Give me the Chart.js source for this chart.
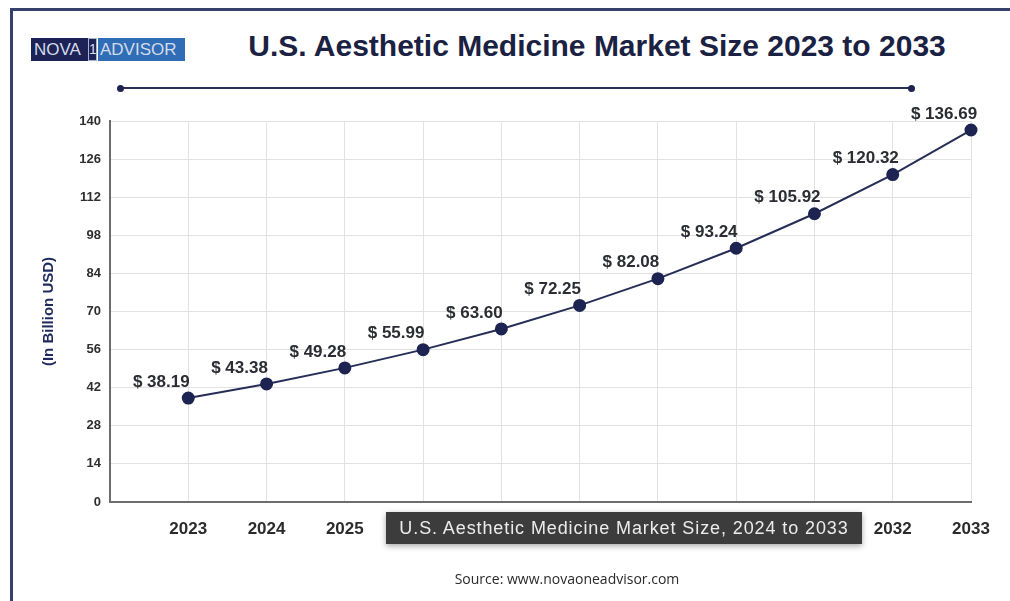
<!DOCTYPE html>
<html lang="en">
<head>
    <meta charset="UTF-8">
    <meta name="viewport" content="width=device-width, initial-scale=1.0">
    <title>U.S. Aesthetic Medicine Market Size</title>
    <style>
        body { margin: 0; background: #fff; }
        .page { position: relative; width: 1010px; height: 601px; overflow: hidden; background: #fff; }
        .frame-top { position: absolute; left: 10px; top: 8px; width: 1000px; height: 3px; background: #35406d; }
        .frame-left { position: absolute; left: 10px; top: 8px; width: 3px; height: 600px; background: #35406d; }
        .logo { position: absolute; left: 31px; top: 38px; height: 23px; display: flex;
                font-family: "Liberation Sans", Arial, sans-serif; font-size: 17px; line-height: 23px; color: #d3dbec; }
        .logo .nova { background: #1d2356; padding: 0 2px 0 3px; width: 52px; }
        .logo .one { background: #1d2356; width: 9px; border: 1px solid #aab4cc; box-sizing: border-box;
                     text-align: center; font-size: 14px; line-height: 21px; margin: 0 1px 0 0; }
        .logo .adv { background: #2f6db6; width: 87px; padding-left: 2px; box-sizing: border-box; }
        .title { position: absolute; left: 0; width: 1194px; top: 31px; text-align: center; white-space: nowrap;
                 font-family: "Liberation Sans", Arial, sans-serif; font-weight: bold; font-size: 30px; line-height: 30px; color: #1b2142; }
        .rule { position: absolute; left: 120px; top: 87px; width: 791px; height: 2px; background: #2a3158; }
        .rule::before, .rule::after { content: ""; position: absolute; top: -2.5px; width: 7px; height: 7px; border-radius: 50%; background: #1d2452; }
        .rule::before { left: -3.5px; }
        .rule::after { right: -3.5px; }
        #chart { position: absolute; left: 0; top: 0; }
        .caption { position: absolute; left: 386px; top: 512px; width: 476px; height: 32px; background: #3c3c3c;
                   box-shadow: 0 2px 6px rgba(0,0,0,0.35); color: #ececec; text-align: center; white-space: nowrap;
                   font-family: "Liberation Sans", Arial, sans-serif; font-size: 18px; letter-spacing: 0.9px; line-height: 32px; }
        .source { position: absolute; left: 0; width: 1134px; top: 569px; text-align: center;
                  font-family: "Open Sans", sans-serif; font-size: 14px; color: #2a2a2a; }
    </style>
</head>
<body>
    <div class="page">
        <div class="frame-top"></div>
        <div class="frame-left"></div>
        <div class="logo"><span class="nova">NOVA</span><span class="one">1</span><span class="adv">ADVISOR</span></div>
        <div class="title">U.S. Aesthetic Medicine Market Size 2023 to 2033</div>
        <div class="rule"></div>
        <canvas id="chart" width="1010" height="601"></canvas>
        <div class="caption">U.S. Aesthetic Medicine Market Size, 2024 to 2033</div>
        <div class="source">Source: www.novaoneadvisor.com</div>
    </div>
    <script src="https://cdn.jsdelivr.net/npm/chart.js@4.4.1/dist/chart.umd.min.js"></script>
    <script>
        // market size per year, billion USD
        const years = [2023, 2024, 2025, 2026, 2027, 2028, 2029, 2030, 2031, 2032, 2033]
        const marketSize = [38.19, 43.38, 49.28, 55.99, 63.60, 72.25, 82.08, 93.24, 105.92, 120.32, 136.69]
        const yTicks = [0, 14, 28, 42, 56, 70, 84, 98, 112, 126, 140]

        const navy = '#1d2452'

        // "$ 38.19" style labels above-left of each point
        const valueLabels = {
            id: 'valueLabels',
            afterDatasetsDraw(chart) {
                const ctx = chart.ctx
                const meta = chart.getDatasetMeta(0)
                ctx.save()
                ctx.font = 'bold 17px "Liberation Sans", Arial, sans-serif'
                ctx.fillStyle = '#2b2d33'
                ctx.textAlign = 'center'
                ctx.textBaseline = 'middle'
                meta.data.forEach((pt, i) => {
                    ctx.fillText('$ ' + marketSize[i].toFixed(2), pt.x - 27, pt.y - 16)
                })
                ctx.restore()
            }
        }

        const chart = new Chart(document.getElementById('chart'), {
            type: 'line',
            data: {
                datasets: [{
                    data: years.map((yr, i) => ({ x: yr, y: marketSize[i] })),
                    borderColor: '#262d57',
                    borderWidth: 2,
                    pointBackgroundColor: navy,
                    pointBorderColor: navy,
                    pointRadius: 5.5,
                    tension: 0,
                    clip: false
                }]
            },
            options: {
                responsive: false,
                animation: false,
                layout: { padding: { top: 121, right: 39, bottom: 59, left: 0 } },
                plugins: {
                    legend: { display: false },
                    tooltip: { enabled: false }
                },
                scales: {
                    x: {
                        type: 'linear',
                        min: 2022,
                        max: 2033,
                        grid: { color: '#e2e2e2', lineWidth: 1, drawTicks: false },
                        border: { display: true, color: '#6d6d6d', width: 2 },
                        ticks: {
                            stepSize: 1,
                            padding: 17,
                            color: '#2b2b2b',
                            font: { family: '"Liberation Sans", Arial, sans-serif', size: 17, weight: 'bold' },
                            callback: v => years.includes(v) ? String(v) : ''
                        },
                        afterFit(scale) {
                            scale.height = 40
                            scale.paddingLeft = 0
                            scale.paddingRight = 0
                        }
                    },
                    y: {
                        min: 0,
                        max: 140,
                        afterBuildTicks(scale) {
                            scale.ticks = yTicks.map(v => ({ value: v }))
                        },
                        grid: { color: '#e2e2e2', lineWidth: 1, drawTicks: false },
                        border: { display: true, color: '#6d6d6d', width: 2 },
                        ticks: {
                            padding: 9,
                            color: '#2e2e2e',
                            font: { family: '"Liberation Sans", Arial, sans-serif', size: 13, weight: 'bold' }
                        },
                        title: {
                            display: true,
                            text: '(In Billion USD)',
                            color: '#1f2a5c',
                            padding: { top: 40, bottom: 0 },
                            font: { family: '"Liberation Sans", Arial, sans-serif', size: 15, weight: 'bold' }
                        },
                        afterFit(scale) {
                            scale.width = 110
                            scale.paddingTop = 0
                            scale.paddingBottom = 0
                        }
                    }
                }
            },
            plugins: [valueLabels]
        })
    </script>
</body>
</html>
